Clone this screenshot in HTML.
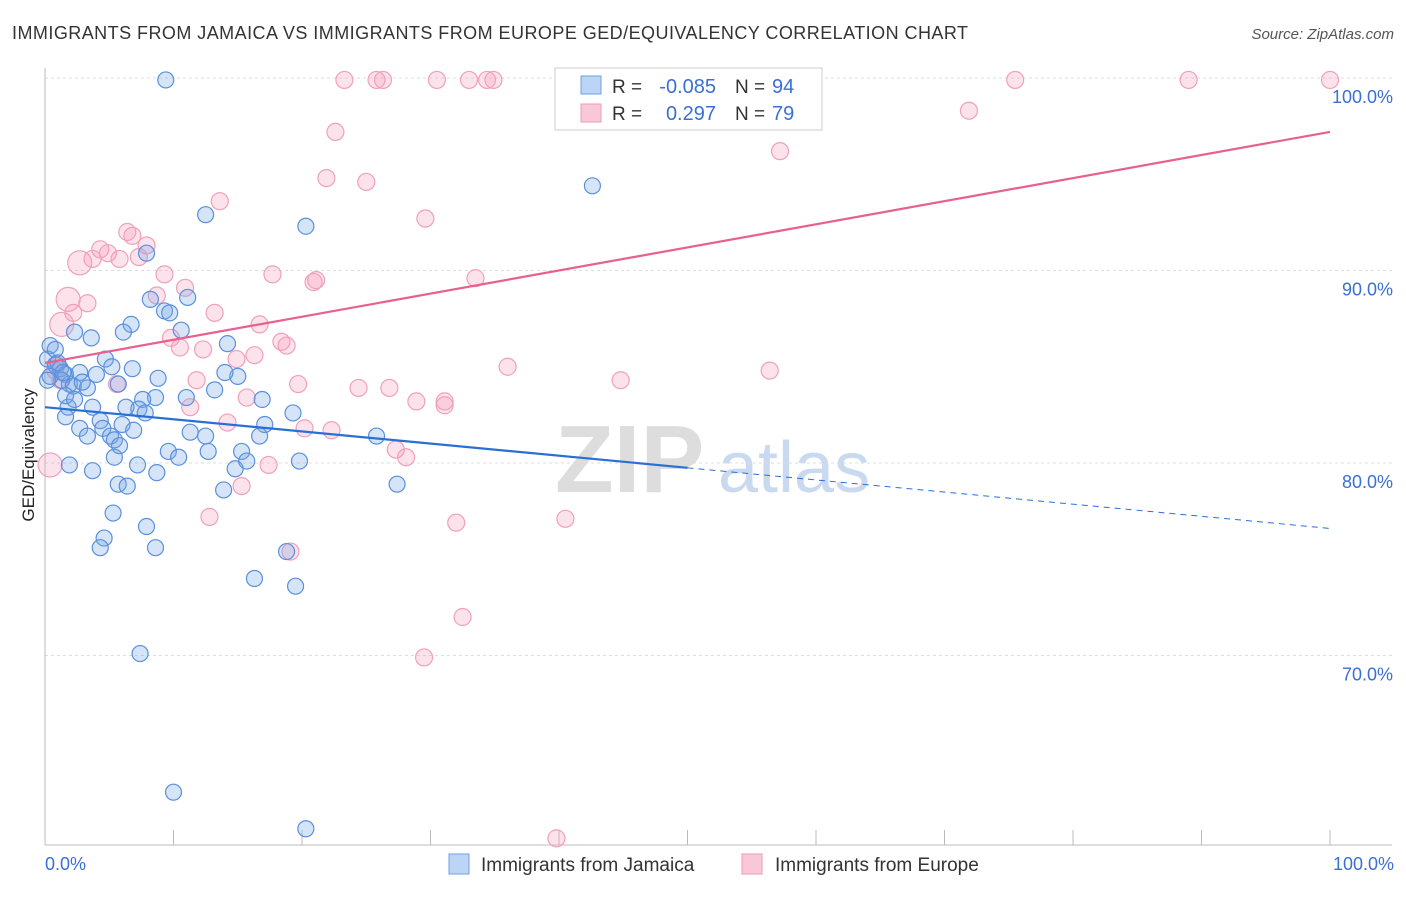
<!DOCTYPE html>
<html><head><meta charset="utf-8"><style>
body{margin:0;background:#fff;font-family:"Liberation Sans",sans-serif}
svg text{font-family:"Liberation Sans",sans-serif}
</style></head><body>
<svg id="c" width="1406" height="892" xmlns="http://www.w3.org/2000/svg">
<text x="12" y="39" font-size="18" fill="#333" textLength="956" lengthAdjust="spacing">IMMIGRANTS FROM JAMAICA VS IMMIGRANTS FROM EUROPE GED/EQUIVALENCY CORRELATION CHART</text>
<text x="1394" y="39" font-size="15" fill="#555" font-style="italic" text-anchor="end">Source: ZipAtlas.com</text>
<text x="34" y="455" font-size="17" fill="#222" text-anchor="middle" transform="rotate(-90 34 455)">GED/Equivalency</text>
<g><text x="555" y="492" font-size="96" fill="#ddd" font-family="Liberation Serif" font-weight="bold">ZIP</text><text x="718" y="492" font-size="72" fill="#c9daf0">atlas</text></g>
<g id="grid"></g><g id="pts"></g><g id="lines"></g>
<g>
<rect x="555" y="68" width="267" height="62" fill="#fff" stroke="#ccc"/>
<rect x="581" y="76" width="20" height="18" fill="#bcd4f5" stroke="#6fa0e0"/>
<rect x="581" y="104" width="20" height="18" fill="#f9c8d8" stroke="#ee9ab6"/>
<text x="612" y="93" font-size="19" fill="#333">R =</text>
<text x="716" y="93" font-size="20" fill="#3a6fd6" text-anchor="end">-0.085</text>
<text x="735" y="93" font-size="19" fill="#333">N =</text>
<text x="772" y="93" font-size="20" fill="#3a6fd6">94</text>
<text x="612" y="120" font-size="19" fill="#333">R =</text>
<text x="716" y="120" font-size="20" fill="#3a6fd6" text-anchor="end">0.297</text>
<text x="735" y="120" font-size="19" fill="#333">N =</text>
<text x="772" y="120" font-size="20" fill="#3a6fd6">79</text>
</g>
<g>
<rect x="449" y="854" width="20" height="20" fill="#bcd4f5" stroke="#6fa0e0"/>
<text x="481" y="871" font-size="19" fill="#333">Immigrants from Jamaica</text>
<rect x="742" y="854" width="20" height="20" fill="#f9c8d8" stroke="#ee9ab6"/>
<text x="775" y="871" font-size="19" fill="#333">Immigrants from Europe</text>
</g>
</svg>
<script>
const yTicks=[100,90,80,70];
const xTickLabels=["0.0%","100.0%"];
const blueX=[9.4,42.6,12.5,20.3,7.9,8.2,11.1,9.3,9.7,10.6,6.7,6.1,2.3,3.6,0.4,14.2,0.2,4.7,0.8,1.2,1.6,2.7,4.0,5.2,6.8,8.8,15.0,14.0,5.7,3.3,1.9,1.3,2.2,2.9,0.4,11.0,8.6,7.6,7.3,6.3,3.7,1.8,1.6,4.3,6.0,4.5,2.7,6.9,3.3,5.1,11.3,12.5,17.1,16.7,19.3,25.8,9.6,10.4,12.7,15.3,15.7,14.8,5.4,7.2,8.7,3.7,1.9,19.8,13.9,5.7,6.4,27.4,5.3,7.9,4.6,4.3,8.6,18.8,16.3,19.5,7.4,10.0,20.3,0.8,1.0,1.4,0.2,1.6,2.3,5.4,5.8,7.8,13.2,16.9];
const blueY=[99.9,94.4,92.9,92.3,90.9,88.5,88.6,87.9,87.8,86.9,87.2,86.8,86.8,86.5,86.1,86.2,85.4,85.4,85.1,84.9,84.6,84.7,84.6,85.0,84.9,84.4,84.5,84.7,84.1,83.9,84.1,84.3,84.0,84.2,84.5,83.4,83.4,83.3,82.8,82.9,82.9,82.9,82.4,82.2,82.0,81.8,81.8,81.7,81.4,81.4,81.6,81.4,82.0,81.4,82.6,81.4,80.6,80.3,80.6,80.6,80.1,79.7,80.3,79.9,79.5,79.6,79.9,80.1,78.6,78.9,78.8,78.9,77.4,76.7,76.1,75.6,75.6,75.4,74.0,73.6,70.1,62.9,61.0,85.9,85.2,84.7,84.3,83.5,83.3,81.2,80.9,82.6,83.8,83.3];
const pinkX=[23.3,25.8,26.3,30.5,33.0,34.4,34.9,75.5,89.0,100,71.9,22.6,57.2,21.9,25.0,13.6,29.6,6.4,6.8,7.9,4.3,4.9,5.8,2.7,3.7,7.3,33.5,17.7,21.1,20.9,9.3,10.9,8.7,1.8,3.3,2.2,1.3,13.2,16.7,10.5,9.8,12.3,18.4,18.8,16.3,14.9,0.9,36.0,56.4,44.8,11.8,5.6,19.7,24.4,26.8,15.7,28.9,31.1,31.1,11.3,14.2,20.2,22.3,27.3,28.1,17.4,15.3,0.4,12.8,32.0,40.5,19.1,32.5,29.5,39.8,0.8,1.2];
const pinkY=[99.9,99.9,99.9,99.9,99.9,99.9,99.9,99.9,99.9,99.9,98.3,97.2,96.2,94.8,94.6,93.6,92.7,92.0,91.8,91.3,91.1,90.9,90.6,90.4,90.6,90.7,89.6,89.8,89.5,89.4,89.8,89.1,88.7,88.5,88.3,87.8,87.2,87.8,87.2,86.0,86.5,85.9,86.3,86.1,85.6,85.4,85.1,85.0,84.8,84.3,84.3,84.1,84.1,83.9,83.9,83.4,83.2,83.2,83.0,82.9,82.1,81.8,81.7,80.7,80.3,79.9,78.8,79.9,77.2,76.9,77.1,75.4,72.0,69.9,60.5,84.8,84.3];
const pinkBig=[23,33,36,67]; // indices of larger bubbles
const blueTrend=[82.9,76.6];
const blueSolidEnd=[50];
const pinkTrend=[85.2,97.2];
const sx=v=>45+v*12.85, sy=v=>78+(100-v)*19.25;
const NS="http://www.w3.org/2000/svg";
function mk(t,a,p){const e=document.createElementNS(NS,t);for(const k in a)e.setAttribute(k,a[k]);p.appendChild(e);return e;}
const grid=document.getElementById('grid');
yTicks.forEach(t=>{
 const l=mk('line',{x1:45,x2:1392,y1:sy(t),y2:sy(t),stroke:'#ddd','stroke-dasharray':'3,3'},grid);
 
 
 const tx=mk('text',{x:1393,y:sy(t)+25,'font-size':18,fill:'#3a6fd6','text-anchor':'end'},grid);tx.textContent=t.toFixed(1)+'%';
 
 
});
mk('line',{x1:45,x2:45,y1:68,y2:845,stroke:'#bbb'},grid);
mk('line',{x1:45,x2:1392,y1:845,y2:845,stroke:'#bbb'},grid);
for(let i=0;i<=10;i++){mk('line',{x1:sx(i*10),x2:sx(i*10),y1:830,y2:845,stroke:'#bbb'},grid);}
xTickLabels.forEach((s,i)=>{const t=mk('text',{x:i?1394:45,y:870,'font-size':18,fill:'#3a6fd6','text-anchor':i?'end':'start'},grid);t.textContent=s;
 
 });
const pts=document.getElementById('pts');
pinkX.forEach((x,i)=>{const c=mk('circle',{cx:sx(x),cy:sy(pinkY[i]),r:pinkBig.includes(i)?12:8.5,fill:'rgba(244,160,190,0.3)',stroke:'#f0a0bc','stroke-width':1.2},pts);
 
 });
blueX.forEach((x,i)=>{const c=mk('circle',{cx:sx(x),cy:sy(blueY[i]),r:8,fill:'rgba(120,165,230,0.3)',stroke:'#5a90dc','stroke-width':1.2},pts);
 
 });
const lines=document.getElementById('lines');
const bAt=x=>blueTrend[0]+(blueTrend[1]-blueTrend[0])*x/100;
const l1=mk('line',{x1:sx(0),y1:sy(bAt(0)),x2:sx(blueSolidEnd[0]),y2:sy(bAt(blueSolidEnd[0])),stroke:'#2a6fd6','stroke-width':2.2},lines);


const l2=mk('line',{x1:sx(blueSolidEnd[0]),y1:sy(bAt(blueSolidEnd[0])),x2:sx(100),y2:sy(bAt(100)),stroke:'#2a6fd6','stroke-width':1,'stroke-dasharray':'6,5'},lines);


const l3=mk('line',{x1:sx(0),y1:sy(pinkTrend[0]),x2:sx(100),y2:sy(pinkTrend[1]),stroke:'#e8608f','stroke-width':2.2},lines);


</script>
</body></html>
